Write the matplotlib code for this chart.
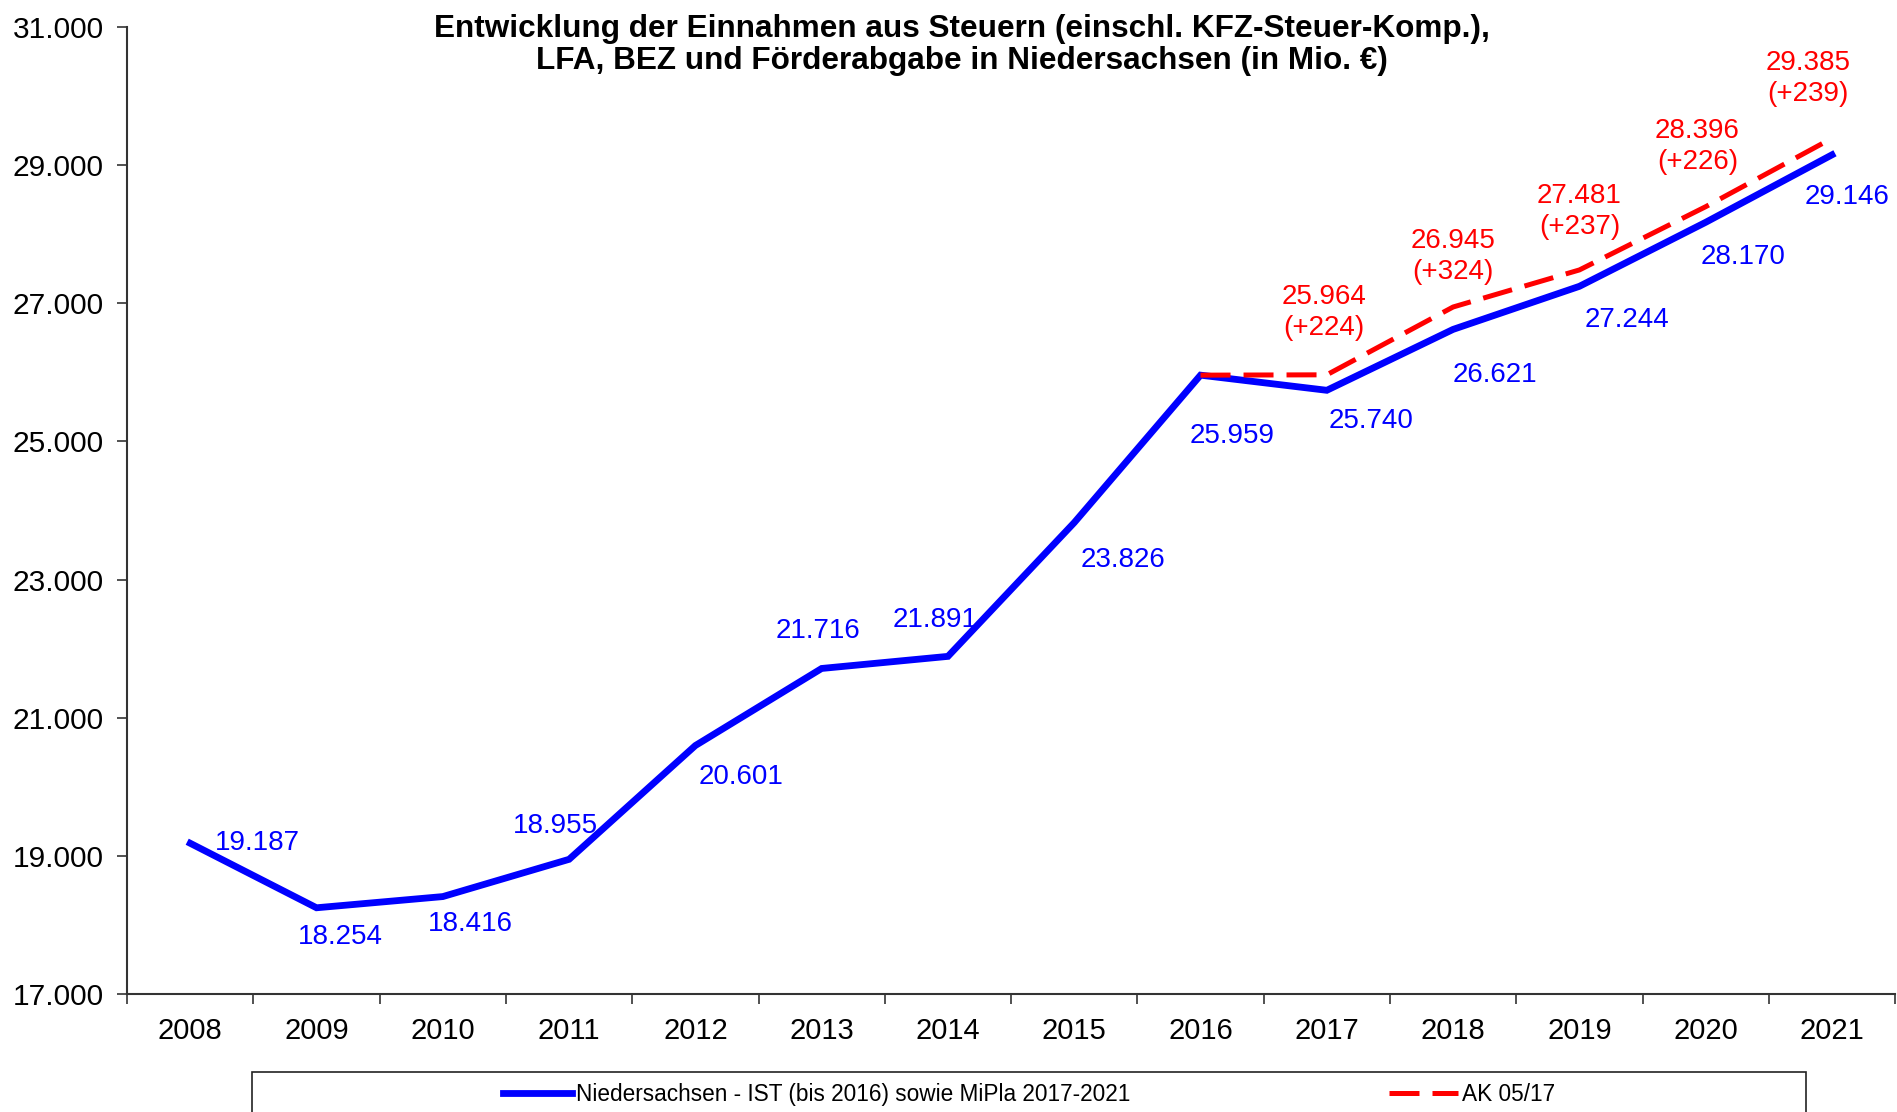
"""
Steuereinnahmen Niedersachsen 2008-2021 (IST / MiPla vs. AK 05/17).
"""
import matplotlib
matplotlib.use("Agg")
from matplotlib import pyplot as plt
from matplotlib.lines import Line2D
from matplotlib.patches import Rectangle

plt.rcParams['font.family'] = ['Liberation Sans', 'DejaVu Sans']

years = [str(y) for y in range(2008, 2022)]
ist = [19187, 18254, 18416, 18955, 20601, 21716, 21891,
       23826, 25959, 25740, 26621, 27244, 28170, 29146]
ak_years = years[8:]
ak = [25959, 25964, 26945, 27481, 28396, 29385]
yticks = list(range(17000, 31001, 2000))

# label offsets (points, y down)
blue_off = [(48, 0), (17, 21), (20, 20), (-10, -24), (33, 23), (-3, -27), (-9, -26),
            (35, 27), (23, 44), (32, 22), (30, 33), (34, 24), (27, 25), (11, 30)]
red_off = [(-2, -45), (0, -36), (0, -42), (-6, -43), (-17, -43)]


def de(v):
    return "{:,}".format(v).replace(",", ".")


fig = plt.figure(figsize=(18.97, 11.12), dpi=100)
ax = fig.add_axes([0.067, 0.1057, 0.932, 0.8703])

x = list(range(len(years)))
xa = x[8:]
ax.plot(x, ist, color="#0000FF", lw=4.9, solid_joinstyle="miter", zorder=3)
ax.plot(xa, ak, color="#FF0000", lw=3.6, dashes=(6, 2.6), zorder=4)

for i, v in enumerate(ist):
    dx, dy = blue_off[i]
    ax.annotate(de(v), (x[i], v), xytext=(dx, -dy), textcoords="offset points",
                ha="center", va="center", color="#0000FF", fontsize=20)

for j in range(1, len(ak)):
    dx, dy = red_off[j - 1]
    txt = "{}\n(+{})".format(de(ak[j]), ak[j] - ist[8 + j])
    ax.annotate(txt, (xa[j], ak[j]), xytext=(dx, -dy), textcoords="offset points",
                ha="center", va="center", color="#FF0000", fontsize=20, linespacing=1.25)

ax.set_xlim(-0.5, len(years) - 0.5)
ax.set_ylim(17000, 31000)
ax.set_yticks(yticks)
ax.set_yticklabels([de(t) for t in yticks], fontsize=21.5)
ax.set_xticks(x)
ax.set_xticklabels(years, fontsize=21)
ax.set_xticks([i - 0.5 for i in range(len(years) + 1)], minor=True)
ax.tick_params(axis="x", which="major", length=0, pad=16)
ax.tick_params(axis="x", which="minor", length=7, width=1.2, direction="out", color="#333333")
ax.tick_params(axis="y", length=7, width=1.2, direction="out", pad=10, color="#333333")
for s in ("top", "right"):
    ax.spines[s].set_visible(False)
for s in ("left", "bottom"):
    ax.spines[s].set_linewidth(1.5)
    ax.spines[s].set_color("#333333")

fig.text(0.507, 0.9595, "Entwicklung der Einnahmen aus Steuern (einschl. KFZ-Steuer-Komp.),\n"
         "LFA, BEZ und Förderabgabe in Niedersachsen (in Mio. €)",
         ha="center", va="center", fontsize=22.7, fontweight="bold", linespacing=1.12)

# legend box (runs off the bottom edge like the original)
fig.patches.append(Rectangle((0.133, -0.05), 0.819, 0.086, transform=fig.transFigure,
                             fill=False, edgecolor="#222222", lw=1.2))
handles = [Line2D([], [], color="#0000FF", lw=4.9),
           Line2D([], [], color="#FF0000", lw=3.6, dashes=(6, 2.6))]
fig.legend(handles, ["Niedersachsen - IST (bis 2016) sowie MiPla 2017-2021", "AK 05/17"],
           loc="center", bbox_to_anchor=(0.5425, 0.016), ncol=2, frameon=False,
           fontsize=16.3, handlelength=3.05, handletextpad=0.2, columnspacing=11.4)

fig.savefig("out.png", dpi=100)
